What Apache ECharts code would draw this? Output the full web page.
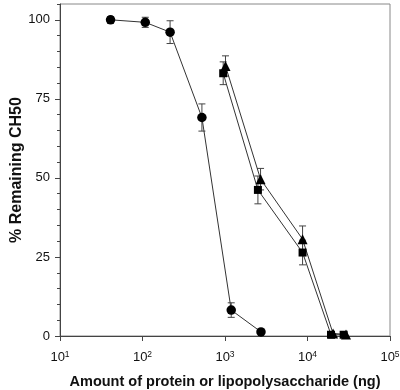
<!DOCTYPE html>
<html>
<head>
<meta charset="utf-8">
<script src="https://cdn.jsdelivr.net/npm/echarts@6/dist/echarts.min.js"></script>
<style>
  html, body { margin: 0; padding: 0; background: #fff; }
  #chart { width: 400px; height: 390px; }
</style>
</head>
<body>
<div id="chart"></div>
<script>
// values
const circleX = [41, 108, 216, 525, 1190, 2730];
const circleY = [100, 99.2, 96.1, 69.1, 8.2, 1.3];
const circleErr = [1.0, 1.6, 3.6, 4.3, 2.3, 0];

const squareX = [951, 2506, 8714, 19280, 27420];
const squareY = [83.1, 46.2, 26.4, 0.4, 0.4];
const squareErr = [3.6, 4.4, 3.9, 0, 0];

const triangleX = [1014, 2698, 8714, 20400, 29300];
const triangleY = [85.4, 49.6, 30.6, 0.8, 0.5];
const triangleErr = [3.2, 3.4, 4.2, 0, 0];

const xTicks = [10, 100, 1000, 10000, 100000];
const yTicks = [0, 25, 50, 75, 100];
const yTop = 105; // frame sits a little above 100

const font = 'Liberation Sans, Arial, sans-serif';

function pairs(xs, ys) {
  return xs.map((x, i) => [x, ys[i]]);
}
function errRows(xs, ys, es) {
  return xs.map((x, i) => [x, ys[i], es[i]]);
}

// error bars with small caps
function renderErr(params, api) {
  const x = api.value(0), y = api.value(1), e = api.value(2);
  if (!e) return null;
  const top = api.coord([x, y + e]);
  const bot = api.coord([x, y - e]);
  const w = 3.5;
  const st = { stroke: '#444', lineWidth: 1 };
  return {
    type: 'group',
    children: [
      { type: 'line', shape: { x1: top[0], y1: top[1], x2: bot[0], y2: bot[1] }, style: st },
      { type: 'line', shape: { x1: top[0] - w, y1: top[1], x2: top[0] + w, y2: top[1] }, style: st },
      { type: 'line', shape: { x1: bot[0] - w, y1: bot[1], x2: bot[0] + w, y2: bot[1] }, style: st }
    ]
  };
}

const chart = echarts.init(document.getElementById('chart'));

function lineSeries(data, symbol, size) {
  return {
    type: 'line',
    data: data,
    symbol: symbol,
    symbolSize: size,
    itemStyle: { color: '#000' },
    lineStyle: { color: '#333', width: 1 },
    z: 3,
    animation: false
  };
}
function errSeries(rows) {
  return {
    type: 'custom',
    data: rows,
    renderItem: renderErr,
    encode: { x: 0, y: 1 },
    z: 2,
    animation: false
  };
}

chart.setOption({
  animation: false,
  textStyle: { fontFamily: font },
  grid: {
    left: 60, right: 10, top: 4, bottom: 54,
    outerBoundsMode: 'none', containLabel: false,
    show: true, borderColor: '#888', borderWidth: 1, backgroundColor: 'transparent'
  },
  xAxis: {
    type: 'log',
    logBase: 10,
    min: xTicks[0],
    max: xTicks[xTicks.length - 1],
    interval: 1,
    axisLine: { lineStyle: { color: '#444', width: 1 } },
    axisTick: { show: true, length: 5, lineStyle: { color: '#444' } },
    minorTick: { show: false },
    splitLine: { show: false },
    axisLabel: {
      margin: 14,
      color: '#111',
      formatter: function (v) {
        return '{b|10}{s|' + Math.round(Math.log10(v)) + '}';
      },
      rich: {
        b: { fontSize: 13, fontFamily: font, color: '#111' },
        s: { fontSize: 8.5, fontFamily: font, color: '#111', verticalAlign: 'top', padding: [0, 0, 6, 0] }
      }
    },
    name: 'Amount of protein or lipopolysaccharide (ng)',
    nameLocation: 'middle',
    nameGap: 38,
    nameTextStyle: { fontSize: 14.5, fontWeight: 'bold', color: '#111', fontFamily: font }
  },
  yAxis: [
    {
      // small ticks every 5
      type: 'value',
      min: 0,
      max: yTop,
      interval: 5,
      axisLine: { show: true, onZero: false, lineStyle: { color: '#444', width: 1 } },
      axisTick: { show: true, length: 3, lineStyle: { color: '#444' } },
      axisLabel: { show: false },
      splitLine: { show: false },
      name: '% Remaining CH50',
      nameLocation: 'middle',
      nameGap: 35,
      nameTextStyle: { fontSize: 16, fontWeight: 'bold', color: '#111', fontFamily: font }
    },
    {
      // labelled ticks
      type: 'value',
      position: 'left',
      min: 0,
      max: yTop,
      axisLine: { show: false },
      axisTick: { show: true, length: 5, customValues: yTicks, lineStyle: { color: '#444' } },
      axisLabel: { margin: 10, fontSize: 13, color: '#111', fontFamily: font, customValues: yTicks },
      splitLine: { show: false }
    }
  ],
  series: [
    errSeries(errRows(circleX, circleY, circleErr)),
    errSeries(errRows(squareX, squareY, squareErr)),
    errSeries(errRows(triangleX, triangleY, triangleErr)),
    lineSeries(pairs(circleX, circleY), 'circle', 9.5),
    lineSeries(pairs(squareX, squareY), 'rect', 8),
    lineSeries(pairs(triangleX, triangleY), 'triangle', 10)
  ]
});
</script>
</body>
</html>
